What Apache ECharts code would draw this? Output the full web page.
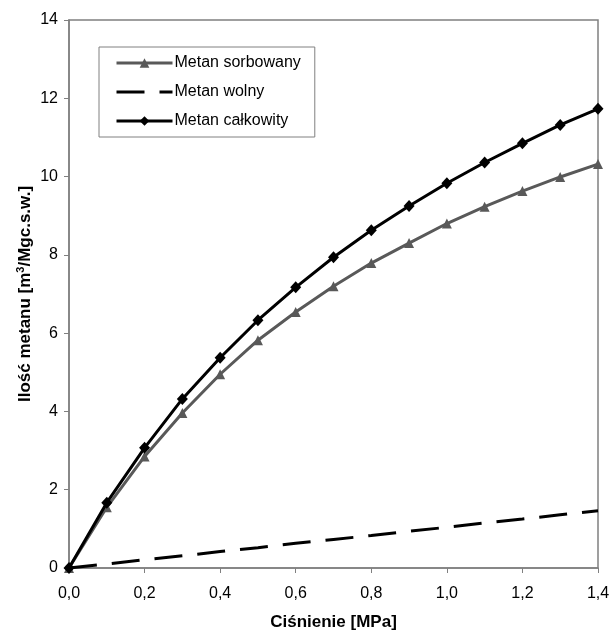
<!DOCTYPE html>
<html><head><meta charset="utf-8">
<script src="https://cdn.jsdelivr.net/npm/echarts@6/dist/echarts.min.js"></script>
<style>html,body{margin:0;padding:0;background:#fff}#c{width:611px;height:631px}</style>
</head><body><div id="c"></div>
<script>
const pressure = [0, 0.1, 0.2, 0.3, 0.4, 0.5, 0.6, 0.7, 0.8, 0.9, 1.0, 1.1, 1.2, 1.3, 1.4];
const sorbowany = [0, 1.55, 2.85, 3.96, 4.95, 5.82, 6.54, 7.2, 7.79, 8.3, 8.8, 9.23, 9.63, 9.99, 10.32];
const wolny = [0, 0.1, 0.21, 0.31, 0.42, 0.52, 0.63, 0.73, 0.83, 0.94, 1.04, 1.15, 1.25, 1.36, 1.46];
const calkowity = [0, 1.67, 3.07, 4.32, 5.37, 6.33, 7.17, 7.94, 8.63, 9.25, 9.83, 10.36, 10.85, 11.32, 11.73];
const names = ['Metan sorbowany', 'Metan wolny', 'Metan całkowity'];

const pairs = arr => pressure.map((p, i) => [p, arr[i]]);
const font = 'Liberation Sans, Arial, sans-serif';
const chart = echarts.init(document.getElementById('c'));
chart.setOption({
  animation: false,
  textStyle: { fontFamily: font },
  grid: { left: 69, right: 13, top: 20, bottom: 63, show: true, borderColor: '#808080', borderWidth: 1.5,
          containLabel: false, outerBoundsMode: 'none' },
  legend: {
    orient: 'vertical', left: 99, top: 47,
    padding: [8, 14, 8, 16], itemGap: 13, itemWidth: 56, itemHeight: 12,
    borderColor: '#808080', borderWidth: 1, backgroundColor: '#fff',
    lineStyle: { width: 3 },
    textStyle: { fontFamily: font, fontSize: 16, color: '#000', padding: [0, 0, 0, -3] },
    data: [names[0], { name: names[1], itemStyle: { color: 'rgba(0,0,0,0)', borderWidth: 0 } }, names[2]]
  },
  xAxis: {
    type: 'value', min: 0, max: 1.4, interval: 0.2,
    name: 'Ciśnienie [MPa]', nameLocation: 'middle', nameGap: 46, nameMoveOverlap: false,
    nameTextStyle: { fontFamily: font, fontSize: 17, fontWeight: 'bold', color: '#000' },
    axisLine: { show: true, lineStyle: { color: '#808080', width: 1.5 } },
    axisTick: { show: true, length: 5, lineStyle: { color: '#808080' } },
    axisLabel: { fontSize: 16, color: '#000', margin: 18, formatter: v => v.toFixed(1).replace('.', ',') },
    splitLine: { show: false }
  },
  yAxis: {
    type: 'value', min: 0, max: 14, interval: 2,
    name: '{t|Ilość metanu [m}{s|3}{t|/Mgc.s.w.]}', nameLocation: 'middle', nameGap: 34, nameRotate: 90,
    nameMoveOverlap: false,
    nameTextStyle: {
      rich: {
        t: { fontFamily: font, fontSize: 17, fontWeight: 'bold', color: '#000' },
        s: { fontFamily: font, fontSize: 11, fontWeight: 'bold', color: '#000', padding: [0, 0, 9, 0] }
      }
    },
    axisLine: { show: true, lineStyle: { color: '#808080', width: 1.5 } },
    axisTick: { show: true, length: 5, lineStyle: { color: '#808080' } },
    axisLabel: { fontSize: 16, color: '#000', margin: 11 },
    splitLine: { show: false }
  },
  series: [
    { name: names[0], type: 'line', data: pairs(sorbowany), symbol: 'triangle', symbolSize: 10,
      lineStyle: { color: '#595959', width: 3 }, itemStyle: { color: '#595959' }, z: 3 },
    { name: names[1], type: 'line', data: pairs(wolny), symbol: 'none',
      lineStyle: { color: '#000', width: 3, type: [28, 15] }, itemStyle: { color: '#000' }, z: 2 },
    { name: names[2], type: 'line', data: pairs(calkowity), symbol: 'diamond', symbolSize: [11, 12],
      lineStyle: { color: '#000', width: 3 }, itemStyle: { color: '#000' }, z: 4 }
  ]
});
</script></body></html>
